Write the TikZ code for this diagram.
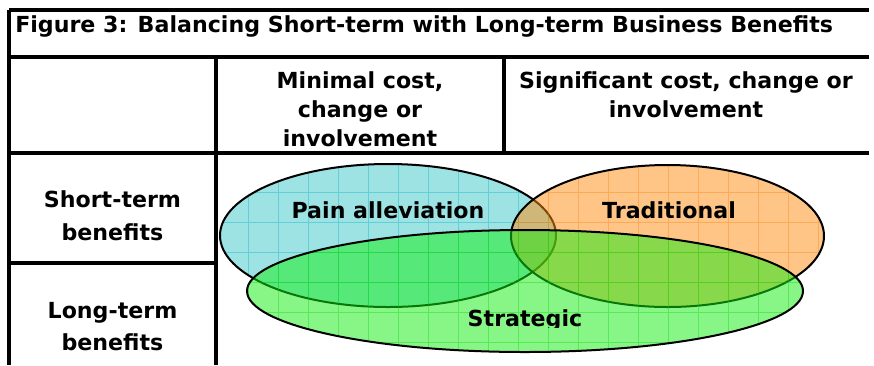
\documentclass[tikz,border=0pt]{standalone}
\usepackage{fontspec}
\setmainfont{DejaVu Sans}
\definecolor{cyanfill}{HTML}{9EE3E3}
\definecolor{cyangrid}{HTML}{62CFD6}
\definecolor{orangebase}{HTML}{FF8C10}
\definecolor{orangegrid}{HTML}{F57A00}
\definecolor{greenbase}{HTML}{10EE10}
\definecolor{greengrid}{HTML}{00D000}
\begin{document}
\begin{tikzpicture}[x=0.75pt,y=0.75pt,
  tline/.style={line width=2.3pt},
  lbl/.style={font=\fontsize{16.6pt}{20pt}\selectfont\bfseries, inner sep=0pt, anchor=base},
  eline/.style={line width=1.5pt, draw=black},
  texgrid/.style={line width=0.6pt, xstep=30, ystep=30, shift={(8,-12)}}
]
\useasboundingbox (0,0) rectangle (874,-365);

% ---------- table rules ----------
\draw[tline] (9,-10) -- (869,-10);
\draw[tline] (9,-10) -- (9,-365);
\draw[tline] (9,-57) -- (869,-57);
\draw[tline] (9,-153) -- (869,-153);
\draw[tline] (9,-263) -- (216,-263);
\draw[tline] (216,-57) -- (216,-365);
\draw[tline] (504,-57) -- (504,-153);

% ---------- texts of the table ----------
\node[lbl, anchor=base west] (title) at (15,-32) {Figure 3: Balancing Short-term with Long-term Business Benefits};
\node[lbl] (minA) at (360,-88) {Minimal cost,};
\node[lbl] (minB) at (360,-117) {change or};
\node[lbl] (minC) at (360,-146) {involvement};
\node[lbl] (sigA) at (686,-88) {Significant cost, change or};
\node[lbl] (sigB) at (686,-117) {involvement};
\node[lbl] (stA) at (112.5,-207) {Short-term};
\node[lbl] (stB) at (112.5,-240) {benefits};
\node[lbl] (ltA) at (112.5,-318) {Long-term};
\node[lbl] (ltB) at (112.5,-350) {benefits};

% ---------- cyan ellipse ----------
\fill[cyanfill] (388,-235.5) ellipse [x radius=168, y radius=71.5];
\begin{scope}
  \clip (388,-235.5) ellipse [x radius=168, y radius=71.5];
  \draw[texgrid, draw=cyangrid] (190,-140) grid (580,-330);
\end{scope}
\draw[eline] (388,-235.5) ellipse [x radius=168, y radius=71.5];

% ---------- orange ellipse ----------
\fill[orangebase, fill opacity=0.5] (667.5,-236) ellipse [x radius=156.5, y radius=71];
\begin{scope}
  \clip (667.5,-236) ellipse [x radius=156.5, y radius=71];
  \draw[texgrid, draw=orangegrid, draw opacity=0.35] (490,-140) grid (850,-330);
\end{scope}
\draw[eline] (667.5,-236) ellipse [x radius=156.5, y radius=71];

% ---------- green ellipse ----------
\fill[greenbase, fill opacity=0.5] (525,-291) ellipse [x radius=278, y radius=61];
\begin{scope}
  \clip (525,-291) ellipse [x radius=278, y radius=61];
  \draw[texgrid, draw=greengrid, draw opacity=0.35] (220,-200) grid (830,-370);
\end{scope}
\draw[eline] (525,-291) ellipse [x radius=278, y radius=61];

% ---------- ellipse labels ----------
\node[lbl] (pain) at (388,-218) {Pain alleviation};
\node[lbl] (trad) at (669,-218) {Traditional};
\begin{scope}
  \clip (0,0) rectangle (874,-327);
  \node[lbl] (strat) at (525,-326) {Strategic};
\end{scope}
\end{tikzpicture}
\end{document}
